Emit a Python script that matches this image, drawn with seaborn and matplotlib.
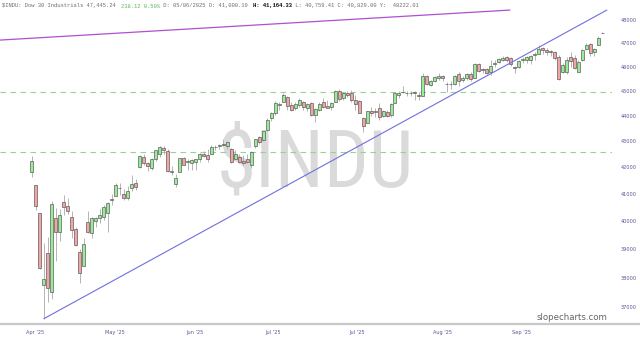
import numpy as np
import pandas as pd
import matplotlib
matplotlib.use("Agg")
import matplotlib.pyplot as plt
import seaborn as sns
from matplotlib import font_manager
from matplotlib.ticker import FixedLocator, NullLocator
from matplotlib.lines import Line2D

# ---------------- data (daily OHLC, Apr 2 2025 -> Oct 27 2025) ----------------
opens = [41811, 41333, 40300, 37741, 38869, 37522, 40100, 39600, 40690, 40560,
         40150, 39700, 38900, 38400, 39950, 39560, 39990, 40100, 40150, 40300,
         40800, 40900, 41200, 41000, 40850, 41200, 41400, 42000, 42400, 42150,
         41950, 42300, 42500, 42750, 42600, 41800, 41350, 41800, 42350, 42200,
         42150, 42200, 42300, 42500, 42450, 42500, 42780, 42800, 42900, 42800,
         42700, 42300, 42400, 42250, 42300, 42100, 42800, 43150, 43050, 43450,
         43900, 44100, 44450, 44550, 44750, 44450, 44300, 44450, 44550, 44300,
         44500, 44050, 44250, 44550, 44400, 44350, 44550, 45000, 44700, 44900,
         44900, 44650, 44600, 43900, 43700, 44200, 44150, 44300, 44000, 44150,
         44050, 44500, 44850, 44950, 44900, 44900, 44950, 44850, 44800, 45600,
         45250, 45400, 45550, 45600, 45300, 45300, 45300, 45700, 45450, 45550,
         45700, 45550, 46100, 45900, 45900, 45800, 46100, 46200, 46300, 46400,
         46350, 46000, 46000, 46300, 46300, 46300, 46500, 46550, 46800, 46700,
         46650, 46600, 46400, 45800, 45800, 46400, 46350, 45800, 46300, 46750,
         46950, 46600, 46900, 47430]
highs = [42440, 41333, 40300, 39208, 39423, 40742, 40460, 40433, 40959, 40860,
         40350, 39800, 38980, 39370, 40370, 40140, 40150, 40450, 40580, 40700,
         41000, 41400, 41400, 41164, 41300, 41700, 41550, 42450, 42500, 42180,
         42350, 42660, 42800, 42800, 42700, 42050, 41750, 42350, 42400, 42300,
         42300, 42320, 42560, 42600, 42700, 42850, 42850, 42900, 43100, 43000,
         42750, 42650, 42500, 42450, 42500, 42600, 43100, 43200, 43400, 43900,
         44150, 44600, 44550, 44900, 44800, 44550, 44550, 44700, 44600, 44500,
         44550, 44300, 44550, 44700, 44650, 44550, 45050, 45100, 44950, 45000,
         45050, 44850, 44650, 43950, 44200, 44350, 44300, 44500, 44250, 44250,
         44500, 44950, 45000, 45200, 45000, 45000, 45000, 44950, 45750, 45650,
         45450, 45600, 45750, 45650, 45350, 45400, 45650, 45800, 45600, 45750,
         45800, 46150, 46150, 45950, 45950, 46300, 46300, 46350, 46450, 46450,
         46400, 46050, 46300, 46400, 46450, 46500, 46600, 46900, 46850, 46800,
         46700, 46650, 46500, 46150, 46400, 46600, 46500, 46300, 46750, 47000,
         47000, 46800, 47300, 47470]
lows = [41616, 40410, 38299, 36612, 37165, 37266, 38567, 39289, 40210, 40270,
        39380, 39100, 37830, 38400, 39560, 39390, 39800, 39920, 40050, 39600,
        40600, 40900, 40950, 40759, 40750, 41100, 41150, 41950, 42080, 41870,
        41900, 42250, 42370, 42500, 41800, 41700, 41250, 41800, 42080, 41900,
        41900, 41900, 42200, 42400, 42200, 42500, 42650, 42700, 42800, 42700,
        42150, 42300, 42150, 42100, 42150, 41950, 42750, 42900, 43000, 43400,
        43800, 44050, 44250, 44550, 44250, 44200, 44250, 44350, 44250, 44200,
        44000, 43750, 44200, 44300, 44300, 44250, 44550, 44600, 44650, 44750,
        44550, 44250, 44100, 43350, 43700, 44000, 43950, 43850, 43950, 43950,
        43950, 44500, 44700, 44900, 44800, 44800, 44650, 44650, 44800, 45250,
        45200, 45350, 45450, 45400, 44950, 45100, 45250, 45200, 45350, 45450,
        45400, 45550, 45800, 45750, 45700, 45650, 46000, 46150, 46250, 46200,
        46050, 45750, 45950, 46150, 46150, 46100, 46300, 46550, 46550, 46500,
        46450, 46300, 45450, 45750, 45700, 46000, 45900, 45800, 46250, 46700,
        46450, 46450, 46900, 47410]
closes = [42225, 40545, 38315, 37966, 37646, 40609, 39594, 40213, 40525, 40368,
          39669, 39142, 38170, 39187, 39607, 40093, 40114, 40228, 40527, 40669,
          40753, 41317, 41219, 40829, 41114, 41368, 41249, 42410, 42140, 42051,
          42323, 42655, 42792, 42677, 41860, 41859, 41603, 42343, 42099, 42216,
          42270, 42305, 42520, 42428, 42319, 42763, 42762, 42867, 42866, 42968,
          42198, 42515, 42215, 42172, 42207, 42582, 43089, 42982, 43386, 43819,
          44095, 44495, 44484, 44829, 44406, 44241, 44458, 44651, 44371, 44460,
          44023, 44255, 44484, 44342, 44323, 44502, 45010, 44694, 44902, 44838,
          44633, 44461, 44131, 43589, 44174, 44112, 44193, 43969, 44176, 43975,
          44459, 44922, 44911, 44946, 44912, 44922, 44938, 44785, 45632, 45282,
          45418, 45565, 45637, 45545, 45296, 45271, 45621, 45401, 45515, 45711,
          45490, 46108, 45834, 45883, 45758, 46018, 46142, 46315, 46382, 46292,
          46121, 45947, 46247, 46316, 46398, 46441, 46520, 46758, 46695, 46603,
          46602, 46358, 45480, 46068, 46270, 46253, 45952, 46191, 46707, 46925,
          46591, 46735, 47207, 47445]

month_labels = ["Apr '25", "May '25", "Jun '25", "Jul '25", "Jul '25", "Aug '25", "Sep '25"]
price_ticks = [37000, 38000, 39000, 40000, 41000, 42000, 43000, 44000, 45000, 46000, 47000, 48000]
hlines = [44950, 42590]
trend_blue_x = [3, 144.1]
trend_blue_y = [36612, 48426]
trend_purple_x = [-8.0, 119.8]
trend_purple_y = [47127, 48426]

title_parts = [
    ("$INDU: Dow 30 Industrials 47,445.24 ", "#707070", "normal"),
    ("238.12 0.50%", "#5cb85c", "normal"),
    (" D: 05/06/2025 O: 41,000.19 ", "#707070", "normal"),
    ("H: 41,164.33", "#111111", "bold"),
    (" L: 40,759.41 C: 40,829.00 Y:  48222.01", "#707070", "normal"),
]

# ---------------- figure ----------------
sns.set_theme(style="white")
plt.rcParams["font.family"] = ["DejaVu Sans"]


def pick_font(cands):
    for f in cands:
        try:
            font_manager.findfont(font_manager.FontProperties(family=f), fallback_to_default=False)
            return f
        except Exception:
            continue
    return "DejaVu Sans"


W, H = 640, 339
fig = plt.figure(figsize=(W / 100, H / 100), dpi=100)
ax = fig.add_axes([0, 16 / H, 612 / W, 323 / H])

df = pd.DataFrame({"o": opens, "h": highs, "l": lows, "c": closes})
df["x"] = np.arange(len(df))
df["up"] = df["c"] >= df["o"]

# wicks
ax.vlines(df["x"], df["l"], df["h"], color="#a8a8a8", linewidth=0.6, zorder=2)
# bodies
body_bottom = df[["o", "c"]].min(axis=1)
body_h = (df["c"] - df["o"]).abs().clip(lower=8)
colors = np.where(df["up"], "#98ec98", "#f2a5a5")
ax.bar(df["x"], body_h, bottom=body_bottom, width=0.75, color=colors,
       edgecolor="#505050", linewidth=0.45, zorder=3)

# dashed horizontal levels
for lv in hlines:
    ax.axhline(lv, color="#96d296", linestyle=(0, (5, 4)), linewidth=0.8, zorder=1)

# trend lines
sns.lineplot(x=trend_blue_x, y=trend_blue_y, ax=ax, color="#6f6fe0", linewidth=0.8, zorder=4)
sns.lineplot(x=trend_purple_x, y=trend_purple_y, ax=ax, color="#b050d0", linewidth=0.9, zorder=4)

ax.set_yscale("log")
ax.set_ylim(36467, 48870)
ax.set_xlim(-8.02, 145.4)

ax.yaxis.tick_right()
ax.yaxis.set_major_locator(FixedLocator(price_ticks))
ax.yaxis.set_minor_locator(NullLocator())
ax.set_yticklabels([str(t) for t in price_ticks])
ax.tick_params(axis="y", length=0, pad=6, labelsize=3.6, labelcolor="#55559a")

tick_pos = [0.75, 20.8, 40.9, 60.4, 81.5, 102.8, 122.8]
ax.set_xticks(tick_pos)
ax.set_xticklabels(month_labels)
ax.tick_params(axis="x", length=0, pad=5, labelsize=3.6, labelcolor="#55559a")

for s in ["top", "left", "right", "bottom"]:
    ax.spines[s].set_visible(False)
ax.set_xlabel("")
ax.set_ylabel("")
ax.grid(False)

# bottom rule across full width
fig.add_artist(Line2D([0, 1], [1 - 323.5 / H, 1 - 323.5 / H], transform=fig.transFigure,
                      color="#c8c8c8", linewidth=1.6))

# watermark
narrow = pick_font(["Liberation Sans Narrow", "Roboto Condensed"])
if narrow != "DejaVu Sans":
    wm_font, wm_size = narrow, 57
else:
    wm_font, wm_size = "Liberation Sans", 51
ax.text(0.516, 0.49, "$INDU", transform=ax.transAxes, fontsize=wm_size, color="#dadada",
        family=wm_font, ha="center", va="center", zorder=0, parse_math=False)

# title line (monospace, segmented)
cw = 3.3
xpos = 2.0
for txt, col, wt in title_parts:
    fig.text(xpos / W, 1 - 6 / H, txt, fontsize=cw / 0.6 * 0.72, family="Liberation Mono",
             color=col, weight=wt, va="center", ha="left", parse_math=False)
    xpos += cw * len(txt)

fig.text(572 / W, 1 - 317 / H, "slopecharts.com", fontsize=6.2, color="#666666",
         ha="center", va="center")

fig.savefig("out.png", dpi=100)
